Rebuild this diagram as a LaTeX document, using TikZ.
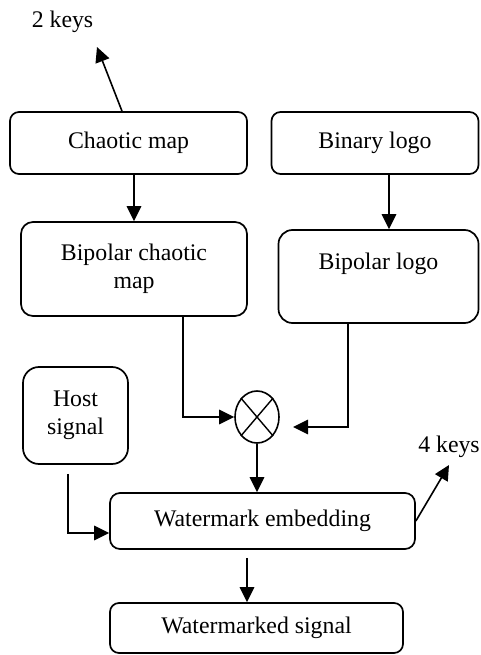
\documentclass[tikz,border=0pt]{standalone}
\usepackage{fontspec}
\setmainfont{Liberation Serif}
\usetikzlibrary{arrows.meta,shapes.geometric,calc}
\begin{document}
\begin{tikzpicture}[x=1pt,y=-1pt,
  every node/.style={font=\fontsize{23.8}{27.5}\selectfont},
  box/.style={draw,line width=1.7pt,rectangle,inner sep=0pt,align=center},
  arr/.style={line width=1.6pt,-{Triangle[length=15pt,width=14.5pt]}},
  ln/.style={line width=1.6pt}]
\useasboundingbox (0,0) rectangle (481,655);
\node[box,rounded corners=9pt,minimum width=237pt,minimum height=62pt] (cmap) at (128.5,143) {Chaotic map};
\node[box,rounded corners=9pt,minimum width=207pt,minimum height=62pt] (blogo) at (375,143) {Binary logo};
\node[box,rounded corners=12pt,minimum width=226pt,minimum height=94pt] (bcmap) at (134,269) {Bipolar chaotic\\map};
\node[box,rounded corners=14pt,minimum width=200pt,minimum height=93pt] (bplogo) at (378.5,276.5) {Bipolar logo\\[4pt]\mbox{}};
\node[draw,line width=1.6pt,ellipse,inner sep=0pt,minimum width=44pt,minimum height=52pt] (mult) at (257,417) {};
\draw[line width=1.4pt] (mult.north west) -- (mult.south east) (mult.north east) -- (mult.south west);
\node[box,rounded corners=16pt,minimum width=105pt,minimum height=97pt] (host) at (75.5,415.5) {Host\\signal};
\node[box,rounded corners=10pt,minimum width=305pt,minimum height=56pt] (wemb) at (262.5,521) {Watermark embedding};
\node[box,rounded corners=9pt,minimum width=293pt,minimum height=50pt] (wsig) at (256.5,628) {Watermarked signal};
\node (t2) at (62.5,22) {2 keys};
\node (t4) at (449,447) {4 keys};
\coordinate (k2) at (97,47);
\coordinate (k4) at (449,465);
\coordinate (pin) at (293,427);
% connectors
\draw[arr] ([xshift=-6.5pt]cmap.north) -- (k2);
\draw[arr] (cmap.south -| bcmap.north) -- (bcmap.north);
\draw[arr] ([xshift=10.5pt]bplogo.north |- blogo.south) -- ([xshift=10.5pt]bplogo.north);
\draw[arr] ([xshift=49pt]bcmap.south) |- (mult.west);
\draw[arr] ([xshift=-30.5pt]bplogo.south) |- (pin);
\draw[arr] (mult.south) -- (mult.south |- wemb.north);
\draw[arr] ([xshift=-7.5pt,yshift=-9pt]host.south) |- ([yshift=-12pt]wemb.west);
\draw[arr] (wemb.east) -- (k4);
\draw[arr] ([xshift=-15.5pt,yshift=-8pt]wemb.south) -- ([xshift=-9.5pt]wsig.north);
\end{tikzpicture}
\end{document}
